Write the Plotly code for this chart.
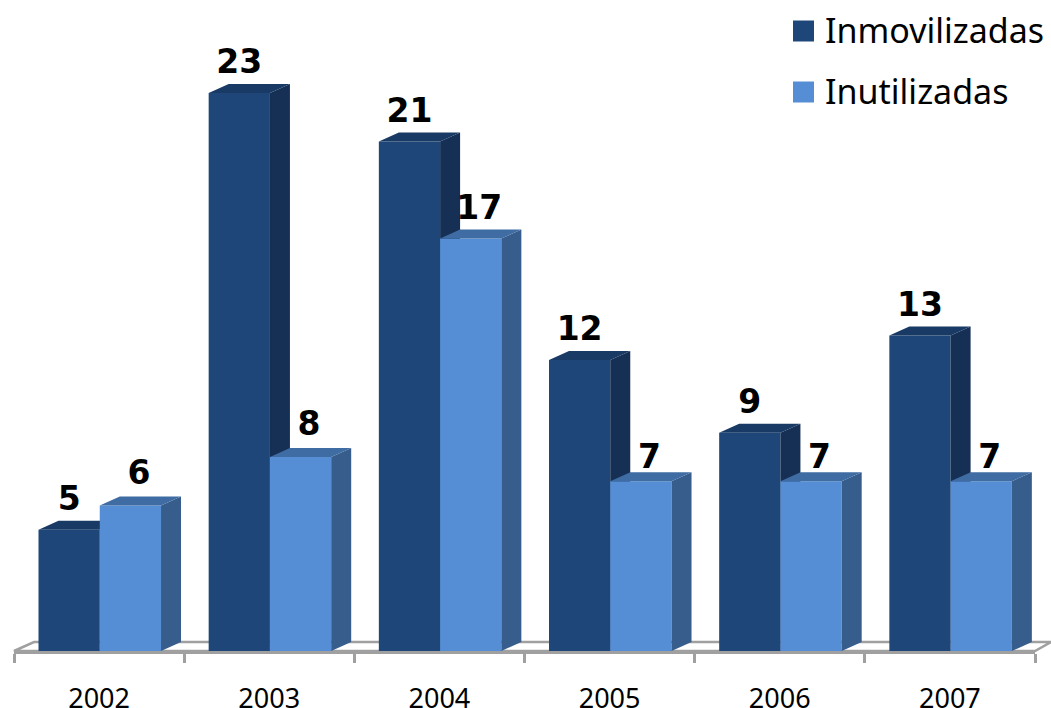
import plotly.graph_objects as go

years = ['2002', '2003', '2004', '2005', '2006', '2007']
inmovilizadas = [5, 23, 21, 12, 9, 13]
inutilizadas = [6, 8, 17, 7, 7, 7]

DARK = '#1e4679'
DARK_SIDE = '#152f55'
DARK_TOP = '#193a65'
LIGHT = '#558ed5'
LIGHT_SIDE = '#375d8c'
LIGHT_TOP = '#3f6ca3'
GRAY = '#a0a0a0'

# plot area in pixels, one category = 170 px, one unit = 24.26 px
WIDTH, HEIGHT = 1051, 708
LEFT, RIGHT, BOTTOM = 14, 16, 57
PX_PER_UNIT = 24.26
BAR_W = 0.36
DEPTH_X = 20 / 170.2
DEPTH_Y = 9 / PX_PER_UNIT
Y_MAX = (HEIGHT - BOTTOM) / PX_PER_UNIT

# how far above the bar each label sits, in px (the low ones tuck into the top face)
DARK_LABEL_LIFT = 28
LIGHT_LABEL_LIFT = [30, 30, 28, 21, 21, 21]

x_pos = list(range(len(years)))


def faces(values, offset):
    """Closed outlines of the right side and top of each bar, None between bars"""
    side_x, side_y, top_x, top_y = [], [], [], []
    for x, v in zip(x_pos, values):
        x0 = x + offset
        x1 = x0 + BAR_W
        side_x += [x1, x1 + DEPTH_X, x1 + DEPTH_X, x1, x1, None]
        side_y += [v, v + DEPTH_Y, DEPTH_Y, 0, v, None]
        top_x += [x0, x0 + DEPTH_X, x1 + DEPTH_X, x1, x0, None]
        top_y += [v, v + DEPTH_Y, v + DEPTH_Y, v, v, None]
    return side_x, side_y, top_x, top_y


def add_series(fig, values, name, offset, front, side, top, xa, ya):
    fig.add_trace(go.Bar(x=x_pos, y=values, name=name, width=BAR_W, offset=offset,
                         marker=dict(color=front, line=dict(width=0)),
                         xaxis=xa, yaxis=ya))
    side_x, side_y, top_x, top_y = faces(values, offset)
    for fx, fy, color in [(side_x, side_y, side), (top_x, top_y, top)]:
        fig.add_trace(go.Scatter(x=fx, y=fy, mode='lines', fill='toself', fillcolor=color,
                                 line=dict(width=0, color=color), hoverinfo='skip',
                                 xaxis=xa, yaxis=ya))


fig = go.Figure()

# light bars sit on the overlay axes so they cover the dark side faces
add_series(fig, inmovilizadas, 'Inmovilizadas', -0.356, DARK, DARK_SIDE, DARK_TOP, 'x', 'y')
add_series(fig, inutilizadas, 'Inutilizadas', 0.004, LIGHT, LIGHT_SIDE, LIGHT_TOP, 'x2', 'y2')

label_font = dict(family='DejaVu Sans', size=33, color='black', weight='bold')
fig.add_trace(go.Scatter(x=[x - 0.176 for x in x_pos],
                         y=[v + DARK_LABEL_LIFT / PX_PER_UNIT for v in inmovilizadas],
                         text=[str(v) for v in inmovilizadas],
                         mode='text', textposition='middle center', textfont=label_font,
                         xaxis='x2', yaxis='y2'))
fig.add_trace(go.Scatter(x=[x + 0.234 for x in x_pos],
                         y=[v + lift / PX_PER_UNIT for v, lift in zip(inutilizadas, LIGHT_LABEL_LIFT)],
                         text=[str(v) for v in inutilizadas],
                         mode='text', textposition='middle center', textfont=label_font,
                         xaxis='x2', yaxis='y2'))

plot_w = WIDTH - LEFT - RIGHT
plot_h = HEIGHT - BOTTOM
floor_dx = 20 / plot_w
floor_dy = 9 / plot_h
shapes = [dict(type='path', xref='paper', yref='paper', layer='below',
               path=f'M 0 0 L {floor_dx} {floor_dy} L {1 + 16 / plot_w} {floor_dy} L 1 0 Z',
               fillcolor='white', line=dict(color=GRAY, width=2.5))]

# legend drawn by hand, plotly caps the swatch size
legend_items = [('Inmovilizadas', DARK, 31), ('Inutilizadas', LIGHT, 92)]
annotations = []
for label, color, cy in legend_items:
    shapes.append(dict(type='rect', xref='paper', yref='paper', layer='above',
                       x0=(793 - LEFT) / plot_w, x1=(814 - LEFT) / plot_w,
                       y0=(plot_h - cy - 10.5) / plot_h, y1=(plot_h - cy + 10.5) / plot_h,
                       fillcolor=color, line=dict(width=0)))
    annotations.append(dict(xref='paper', yref='paper', x=(823 - LEFT) / plot_w,
                            y=(plot_h - cy) / plot_h, text=label, showarrow=False,
                            xanchor='left', yanchor='middle', yshift=1,
                            font=dict(family='Noto Sans', size=34, color='black')))

x_range = [-0.5, 5.5]
fig.update_layout(
    width=WIDTH,
    height=HEIGHT,
    margin=dict(l=LEFT, r=RIGHT, t=0, b=BOTTOM, autoexpand=False),
    paper_bgcolor='white',
    plot_bgcolor='rgba(0,0,0,0)',
    showlegend=False,
    shapes=shapes,
    annotations=annotations,
    xaxis=dict(range=x_range, tickvals=[x - 0.5 for x in x_pos + [6]], ticktext=[''] * 7,
               ticks='outside', ticklen=9, tickwidth=2.5, tickcolor=GRAY,
               showline=True, linecolor=GRAY, linewidth=2.5, showgrid=False, zeroline=False),
    xaxis2=dict(range=x_range, overlaying='x', tickvals=x_pos, ticktext=years,
                ticks='outside', ticklen=24, tickcolor='rgba(0,0,0,0)',
                tickfont=dict(family='Noto Sans', size=27, color='black'),
                showgrid=False, zeroline=False),
    yaxis=dict(range=[0, Y_MAX], visible=False),
    yaxis2=dict(range=[0, Y_MAX], overlaying='y', visible=False),
)

# the page's default body margin would push the figure 8 px off
fig.write_html("out.html", config=dict(displayModeBar=False),
               post_script="document.body.style.margin='0';")
